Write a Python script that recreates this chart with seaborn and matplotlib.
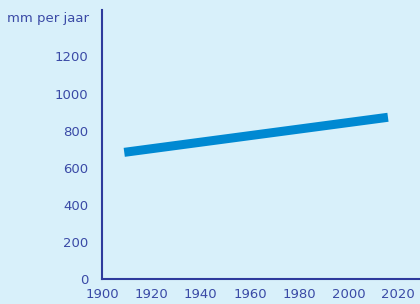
"""Neerslag per jaar, trendlijn."""

import matplotlib
matplotlib.use("Agg")
import matplotlib.pyplot as plt
import pandas as pd
import seaborn as sns

years = [1909, 2016]
neerslag = [683, 872]
x_ticks = [1900, 1920, 1940, 1960, 1980, 2000, 2020]
y_ticks = [0, 200, 400, 600, 800, 1000, 1200]

BG = "#d8f0fa"
AXIS = "#2e3a9c"
TEXT = "#3a4aa6"
LINE = "#0089d2"

sns.set_theme(style="white")
plt.rcParams["font.family"] = ["DejaVu Sans"]

df = pd.DataFrame({"jaar": years, "mm": neerslag})

fig = plt.figure(figsize=(4.2, 3.04), dpi=100, facecolor=BG)
ax = fig.add_axes([0.243, 0.082, 0.757, 0.885])
ax.set_facecolor(BG)

sns.lineplot(data=df, x="jaar", y="mm", ax=ax, color=LINE, linewidth=6.5)
ax.lines[0].set_solid_capstyle("butt")

ax.set_xlim(1900, 2029)
ax.set_ylim(0, 1450)
ax.set_xticks(x_ticks)
ax.set_yticks(y_ticks)
ax.tick_params(length=0, labelsize=9.5, labelcolor=TEXT)
ax.tick_params(axis="y", pad=10)
ax.tick_params(axis="x", pad=6.5)
ax.set_xlabel("")
ax.set_ylabel("")

for side in ["top", "right"]:
    ax.spines[side].set_visible(False)
for side in ["left", "bottom"]:
    ax.spines[side].set_color(AXIS)
    ax.spines[side].set_linewidth(1.5)

fig.text(0.212, 0.94, "mm per jaar", ha="right", va="center", fontsize=9.5, color=TEXT)

fig.savefig("out.png", dpi=100, facecolor=BG)
